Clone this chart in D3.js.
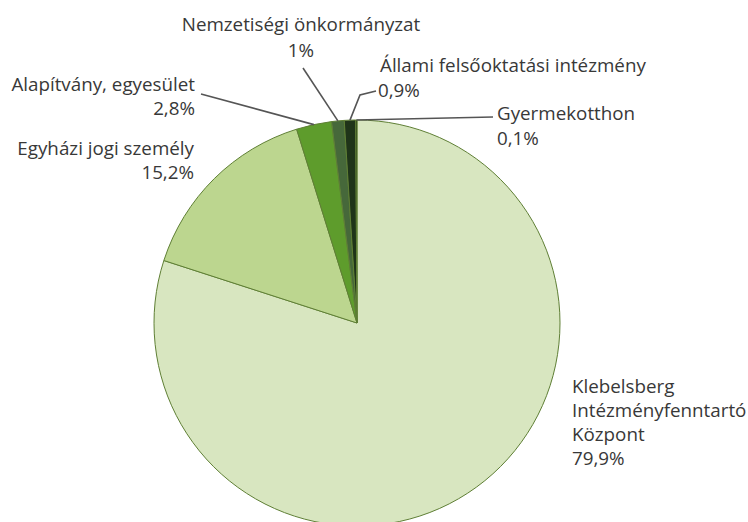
<!DOCTYPE html>
<html>
<head>
<meta charset="utf-8">
<script src="https://cdn.jsdelivr.net/npm/d3@7"></script>
<style>
  body { margin: 0; background: #fff; }
  svg { display: block; }
</style>
</head>
<body>
<svg></svg>
<script>
// fenntartó típusok, a kördiagram sorrendjében (12 órától, óramutató szerint)
const categories = ['Klebelsberg Intézményfenntartó Központ', 'Egyházi jogi személy', 'Alapítvány, egyesület',
	'Nemzetiségi önkormányzat', 'Állami felsőoktatási intézmény', 'Gyermekotthon']
const values = [79.9, 15.2, 2.8, 1, 0.9, 0.1]
const valueLabels = ['79,9%', '15,2%', '2,8%', '1%', '0,9%', '0,1%']
const colors = ['#d8e6c0', '#bcd68f', '#5e9c2c', '#46683a', '#1f3419', '#0b1509']

// label lines per slice (text split into rows)
const labelLines = [
	['Klebelsberg', 'Intézményfenntartó', 'Központ'],
	['Egyházi jogi személy'],
	['Alapítvány, egyesület'],
	['Nemzetiségi önkormányzat'],
	['Állami felsőoktatási intézmény'],
	['Gyermekotthon']
]

function drawPie() {
	const width = 748
	const height = 522
	const cx = 357, cy = 323, radius = 203

	const svg = d3.select('svg')
		.attr('width', width)
		.attr('height', height)

	const g = svg.append('g')
		.attr('transform', `translate(${cx}, ${cy})`)

	const pie = d3.pie()
		.sort(null)
		.value(d => d)

	const arcs = pie(values)
	const arc = d3.arc().innerRadius(0).outerRadius(radius)

	g.selectAll('path.slice')
		.data(arcs)
		.join('path')
		.attr('class', 'slice')
		.attr('d', arc)
		.attr('fill', (d, i) => colors[i])
		.attr('stroke', '#5f7f35')
		.attr('stroke-width', 1)
		.attr('stroke-linejoin', 'round')

	// where each label sits (x, y of first baseline, anchor) + leader elbows
	const layout = [
		{x: 572, y: 393, anchor: 'start', lh: 24, leader: null},
		{x: 194, y: 155, anchor: 'end', lh: 24, leader: null},
		{x: 195, y: 91, anchor: 'end', lh: 24, leader: [[201, 94]]},
		{x: 301, y: 31, anchor: 'middle', lh: 26, leader: [[303, 68]]},
		{x: 380, y: 72, anchor: 'start', lh: 25, pctX: 378, leader: [[360, 95], [376, 91]]},
		{x: 497, y: 120, anchor: 'start', lh: 25, leader: [[493, 117]]}
	]

	// point on the rim at the middle of a slice
	const rim = d => {
		const a = (d.startAngle + d.endAngle) / 2
		return [cx + radius * Math.sin(a), cy - radius * Math.cos(a)]
	}

	const lines = svg.append('g')
		.attr('fill', 'none')
		.attr('stroke', '#555')
		.attr('stroke-width', 1.6)

	arcs.forEach((d, i) => {
		const l = layout[i]
		if (!l.leader) return
		lines.append('path')
			.attr('d', d3.line()([rim(d), ...l.leader]))
	})

	const labels = svg.append('g')
		.attr('font-family', '"Open Sans", Lato, sans-serif')
		.attr('font-size', '18.8px')
		.attr('fill', '#383838')

	arcs.forEach((d, i) => {
		const l = layout[i]
		const t = labels.append('text')
			.attr('text-anchor', l.anchor)
		const rows = [...labelLines[i], valueLabels[i]]
		rows.forEach((row, j) => {
			t.append('tspan')
				.attr('x', j === rows.length - 1 && l.pctX ? l.pctX : l.x)
				.attr('y', l.y + j * l.lh)
				.text(row)
		})
	})
}

drawPie()
</script>
</body>
</html>
